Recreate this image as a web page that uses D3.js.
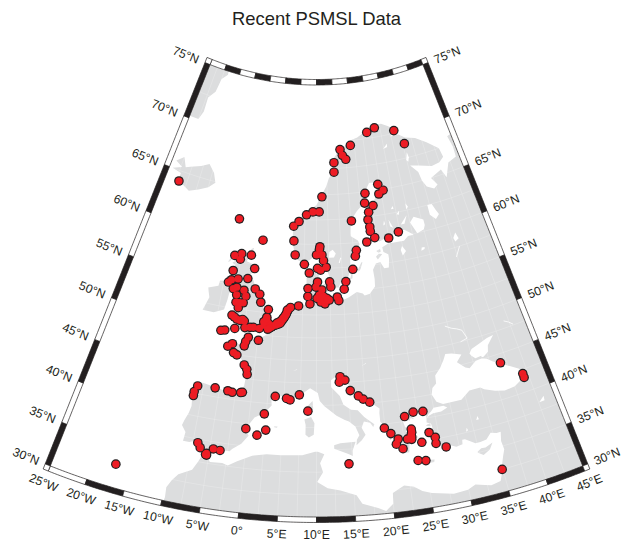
<!DOCTYPE html>
<html>
<head>
<meta charset="utf-8">
<title>Recent PSMSL Data</title>
<script src="https://cdn.jsdelivr.net/npm/d3@7/dist/d3.min.js"></script>
<style>
	html, body { margin: 0; padding: 0; background: #fff; }
	svg { display: block; }
	text { font-family: "Liberation Sans", Arial, sans-serif; fill: #231f20; }
</style>
</head>
<body>
<div id="chart"></div>
<script>
var chartTitle = "Recent PSMSL Data";
var latTicks = [30, 35, 40, 45, 50, 55, 60, 65, 70, 75];
var lonTicks = [-25, -20, -15, -10, -5, 0, 5, 10, 15, 20, 25, 30, 35, 40, 45];

// tide gauges, lon / lat
var nordicStations = [
	[-21.8,64.0],[-6.7,61.9],[-1.1,60.1],[5.1,61.8],[6.2,62.3],[7.8,63.0],[9.2,63.3],[10.6,63.3],[5.3,60.3],[5.7,58.85],
	[7.6,57.9],[8.6,57.0],[10.7,59.75],[10.6,59.5],[10.0,58.9],[11.1,58.9],[11.4,58.3],[10.2,57.5],[10.8,57.3],[11.9,57.6],
	[18.1,59.2],[17.8,58.6],[20.4,59.95],[17.1,57.25],[15.6,56.0],[15.2,55.2],[26.0,70.85],[23.75,70.55],[31.05,70.25],[32.95,68.85],
	[18.95,69.55],[16.15,69.25],[16.65,68.7],[17.45,68.3],[14.4,68.05],[14.3,67.15],[11.25,64.8],[24.5,65.55],[25.5,64.9],[24.4,64.6],
	[21.25,64.85],[20.9,63.9],[22.7,63.55],[21.55,62.95],[21.2,62.2],[17.6,62.25],[21.4,61.45],[21.4,61.0],[22.15,60.3],[25.0,60.05],[27.2,60.5]
];
var balticStations = [
	[12.5,56.05],[12.7,55.5],[10.2,56.05],[9.9,55.5],[8.4,55.35],[8.4,54.5],[8.8,53.7],[11.0,55.2],[10.5,54.65],[10.1,54.3],
	[11.3,54.5],[11.9,54.3],[10.8,53.9],[11.55,53.7],[12.35,54.1],[13.85,54.4],[14.1,54.0],[6.75,53.45],[5.3,53.25],[4.9,52.95],
	[10.6,54.3],[11.0,54.1],[11.4,54.1],[11.0,54.45],[12.0,54.1]
];
var britishStations = [
	[-6.3,58.1],[-5.0,58.4],[-5.1,57.8],[-3.05,58.4],[-6.1,56.5],[-2.05,57.05],[-6.6,55.2],[-6.1,55.5],[-4.9,55.7],[-3.1,55.9],
	[-5.5,54.6],[-4.9,54.8],[-3.5,54.6],[-4.7,54.0],[-3.0,54.0],[-1.45,54.9],[-0.5,54.4],[-0.15,53.55],[-4.6,53.2],[-3.3,53.25],
	[-4.05,52.65],[1.35,52.85],[-4.95,51.75],[-4.0,51.4],[-3.0,51.45],[-3.4,51.3],[-2.65,51.3],[-4.1,50.35],[-5.75,50.0],[-6.4,49.9],
	[-2.4,50.6],[-1.55,50.7],[-0.95,50.75],[0.1,50.7],[1.2,52.0],[0.8,51.5],[0.85,51.1],
	[-4.0,53.2],[-4.5,51.6],[1.3,51.1],[1.6,51.35],[0.75,51.45],[1.2,51.8]
];
var atlanticStations = [
	[4.65,52.6],[4.4,52.3],[4.1,52.05],[3.85,51.8],[3.45,51.6],[3.05,51.45],[2.65,51.2],[2.2,51.0],[1.85,50.85],[1.55,50.7],
	[2.9,51.25],[3.3,51.35],[3.6,51.45],[3.8,51.65],[4.1,51.95],[4.3,52.15],[4.55,52.45],[4.75,52.95],
	[-1.6,49.6],[-1.95,49.1],[-2.1,48.6],[0.15,49.4],[-4.1,48.65],[-4.8,48.3],[-3.7,47.7],[-3.1,47.5],[-1.7,46.5],[-1.2,46.05],
	[-1.05,45.5],[-8.4,43.35],[-8.75,42.65],[-8.75,42.2],[-5.7,43.5],[-3.7,43.4],[-3.0,43.3],[-1.7,43.4],[-1.45,43.45],
	[-6.8,37.1],[-6.35,36.6],[-5.45,35.95],[-5.35,36.1],[-5.3,35.9],[-17.0,32.6]
];
var medStations = [
	[-4.5,36.7],[-3.55,36.65],[3.65,43.35],[5.4,43.2],[5.95,43.05],[7.35,43.65],[8.7,41.85],[2.2,41.3],[2.6,39.5],[1.4,38.85],
	[-0.3,39.45],[13.75,45.65],[14.5,45.25],[13.6,45.05],[15.25,44.05],[16.45,43.4],[17.15,43.0],[18.1,42.6],[23.05,40.55],[24.4,40.9],
	[25.85,40.8],[19.9,39.55],[20.75,38.85],[21.7,38.15],[21.35,37.6],[22.2,37.0],[23.75,39.05],[23.75,38.7],[23.6,38.35],[23.65,38.15],[23.0,38.0],[23.6,37.9],
	[24.95,37.4],[26.2,38.35],[26.95,37.7],[26.9,37.0],[28.2,36.4],[24.05,35.45],[25.1,35.3],[14.5,35.85],[34.9,32.5],
	[39.05,44.0],[41.75,42.05],[41.75,41.6]
];

// land outlines, lon / lat
var landEurasia = [
	[-5.6,36.0],[-6.2,36.5],[-6.4,36.8],[-7.0,37.2],[-7.4,37.2],[-8.0,37.0],[-8.9,37.0],[-8.8,38.0],[-9.2,38.4],[-9.5,38.7],
	[-9.3,39.3],[-8.9,40.2],[-8.7,41.0],[-8.9,42.1],[-9.2,43.0],[-8.3,43.6],[-7.7,43.8],[-6.0,43.6],[-4.5,43.4],[-3.0,43.4],
	[-1.8,43.4],[-1.3,44.2],[-1.2,45.2],[-1.1,45.9],[-1.5,46.4],[-2.2,47.0],[-2.8,47.5],[-4.3,47.8],[-4.7,48.4],[-3.5,48.8],
	[-2.5,48.6],[-1.6,48.6],[-1.8,49.4],[-1.3,49.7],[-1.1,49.4],[0.1,49.5],[1.4,50.1],[1.6,50.8],[2.5,51.1],[3.4,51.4],
	[4.0,52.0],[4.6,52.5],[4.8,53.0],[5.5,53.3],[7.0,53.4],[8.2,53.6],[8.6,53.9],[8.9,54.3],[8.6,54.9],[8.1,55.6],
	[8.1,56.5],[8.6,57.1],[10.0,57.6],[10.6,57.7],[10.4,56.6],[10.9,56.4],[10.0,55.9],[9.6,55.4],[9.8,54.8],[10.0,54.4],
	[10.9,54.3],[11.0,54.0],[12.0,54.2],[13.0,54.4],[13.8,54.1],[14.3,53.9],[16.0,54.3],[17.5,54.8],[18.6,54.6],[18.9,54.35],
	[19.9,54.5],[21.0,55.2],[21.1,56.0],[21.0,57.0],[21.7,57.6],[22.6,57.7],[23.2,57.0],[24.1,57.0],[24.4,57.9],[24.4,58.4],
	[23.5,58.7],[23.4,59.2],[24.7,59.5],[26.5,59.5],[28.0,59.5],[29.0,59.9],[30.2,59.9],[29.5,60.2],[28.5,60.6],[27.0,60.5],
	[25.0,60.2],[23.0,59.85],[22.0,60.3],[21.4,60.8],[21.4,61.8],[21.2,62.4],[21.3,63.1],[22.5,63.8],[23.8,64.4],[24.6,64.9],
	[25.4,65.2],[25.2,65.6],[24.2,65.8],[22.5,65.8],[21.4,65.1],[21.0,64.6],[20.5,63.8],[19.0,63.2],[18.0,62.6],[17.4,62.0],
	[17.2,61.0],[17.2,60.7],[18.6,60.2],[18.9,59.8],[17.9,59.0],[16.7,58.4],[16.7,57.5],[16.2,56.6],[15.7,56.2],[14.7,56.1],
	[14.2,55.4],[13.0,55.4],[12.8,56.0],[12.3,56.9],[11.8,57.7],[11.2,58.8],[10.7,59.3],[10.6,59.9],[10.1,59.2],[9.0,58.5],
	[7.5,58.0],[6.0,58.4],[5.6,59.0],[5.2,59.8],[5.0,61.0],[5.0,62.0],[6.2,62.6],[8.0,63.3],[10.0,64.0],[11.0,64.8],
	[12.3,65.8],[13.0,66.6],[14.5,67.4],[15.5,68.1],[14.5,68.5],[15.8,69.2],[17.5,69.5],[19.0,70.0],[21.0,70.2],[23.5,70.7],
	[25.8,71.1],[28.0,71.1],[30.0,70.7],[31.1,70.3],[29.8,69.8],[32.0,69.8],[33.5,69.4],[36.0,69.1],[38.5,68.4],[41.0,67.5],
	[41.3,66.6],[40.0,66.2],[38.0,66.1],[35.0,66.5],[33.0,66.7],[34.5,65.9],[34.8,65.0],[35.5,64.3],[37.0,63.9],[38.0,64.2],
	[37.0,65.0],[39.8,65.5],[40.5,64.6],[42.0,65.9],[44.2,66.2],[44.4,67.2],[44.0,68.3],[46.0,68.5],[46.5,66.9],[50.0,68.0],[60.0,68.5],
	[60.0,20.0],[34.3,20.0],[34.3,31.3],[34.8,32.2],[35.0,32.9],[35.5,33.9],[35.9,34.6],[35.8,35.6],[36.1,36.6],[35.5,36.6],
	[34.7,36.8],[33.9,36.2],[33.0,36.1],[32.3,36.1],[31.0,36.8],[30.6,36.8],[30.5,36.3],[29.6,36.2],[28.3,36.7],[27.4,36.7],
	[27.3,37.1],[27.2,37.9],[26.4,38.3],[26.8,38.8],[26.7,39.3],[26.1,39.5],[26.2,40.0],[26.2,40.3],[26.0,40.8],[25.2,40.9],
	[24.4,40.9],[23.8,40.7],[24.4,40.1],[23.9,40.3],[23.7,40.0],[23.3,40.2],[22.9,40.5],[22.6,40.4],[22.9,39.4],[23.2,39.1],
	[22.9,38.9],[23.5,38.6],[24.0,38.2],[24.0,37.7],[23.6,37.9],[23.0,37.9],[23.2,37.4],[23.0,36.5],[22.5,36.5],[22.2,37.0],
	[21.7,36.8],[21.3,37.7],[21.7,38.3],[21.2,38.4],[20.8,38.9],[20.2,39.5],[19.4,40.3],[19.4,41.3],[19.5,41.8],[18.5,42.4],
	[17.5,43.0],[16.4,43.5],[15.2,44.2],[14.9,45.0],[14.4,45.3],[13.9,44.8],[13.5,45.3],[13.7,45.7],[13.1,45.7],[12.3,45.3],
	[12.3,44.5],[13.6,43.5],[14.1,42.5],[15.2,41.9],[16.2,41.8],[17.1,41.0],[18.5,40.1],[18.3,39.8],[17.9,40.3],[17.0,40.5],
	[16.6,39.8],[17.1,39.0],[16.5,38.4],[15.7,37.9],[15.8,38.5],[16.2,39.0],[15.7,40.0],[14.8,40.6],[14.2,40.8],[13.0,41.3],
	[12.2,41.8],[11.2,42.4],[10.5,43.0],[10.2,43.9],[9.0,44.4],[8.0,43.9],[7.4,43.7],[6.2,43.1],[5.0,43.4],[4.0,43.5],
	[3.1,43.0],[3.2,42.3],[2.2,41.4],[0.8,40.8],[-0.3,39.5],[0.2,38.7],[-0.7,37.7],[-1.9,37.0],[-2.2,36.7],[-3.5,36.7],
	[-4.5,36.7],[-5.3,36.1]
];
var landAfrica = [
	[34.3,31.3],[33.0,31.1],[32.2,31.3],[31.0,31.6],[29.9,31.2],[28.0,31.1],[25.2,31.6],[24.0,32.0],[23.0,32.6],[21.7,32.9],
	[20.1,32.2],[20.0,31.0],[19.0,30.3],[18.0,30.7],[16.0,31.3],[15.3,32.3],[13.2,32.9],[11.5,33.2],[10.1,33.9],[10.9,35.0],
	[10.5,36.0],[11.1,37.0],[10.2,37.3],[9.8,37.3],[8.0,36.9],[5.0,36.8],[3.0,36.8],[1.0,36.5],[-1.0,35.7],[-2.2,35.1],
	[-3.0,35.3],[-4.7,35.2],[-5.3,35.9],[-5.9,35.8],[-6.3,35.0],[-6.9,34.0],[-8.6,33.2],[-9.3,32.4],[-9.8,31.5],[-9.7,30.4],
	[-10.0,29.0],[-10.0,20.0],[34.4,20.0],[34.4,31.3]
];
var landBritain = [
	[-5.7,50.05],[-4.2,50.3],[-3.0,50.7],[-1.3,50.8],[0.3,50.75],[1.4,51.15],[0.6,51.45],[1.6,52.1],[1.7,52.7],[0.4,52.95],
	[0.2,53.3],[-0.1,53.7],[-0.6,54.5],[-1.5,55.2],[-2.0,55.8],[-3.2,56.0],[-2.6,56.4],[-2.0,57.4],[-3.8,57.7],[-3.0,58.6],
	[-5.0,58.6],[-5.5,57.6],[-6.2,56.7],[-5.5,56.0],[-4.9,55.4],[-5.0,54.8],[-3.5,54.9],[-3.0,53.9],[-3.1,53.3],[-4.5,53.3],
	[-4.2,52.8],[-4.1,52.3],[-5.2,51.9],[-4.2,51.6],[-3.0,51.4],[-4.2,51.2],[-5.0,50.4]
];
var landIreland = [[-6.2,53.3],[-6.5,52.2],[-8.2,51.7],[-10.2,51.7],[-9.5,53.2],[-10.1,54.2],[-8.3,54.6],[-8.2,55.2],[-7.0,55.3],[-5.6,54.6],[-6.1,54.0]];
var landIceland = [
	[-22.7,63.9],[-21.0,63.85],[-19.0,63.4],[-17.0,63.8],[-15.0,64.3],[-13.7,64.9],[-14.6,65.8],[-16.2,66.5],[-18.0,66.1],[-20.4,65.7],
	[-21.4,65.5],[-22.5,66.4],[-24.0,65.8],[-22.2,65.4],[-24.2,65.0],[-22.0,64.8],[-22.0,64.3]
];
var landGreenland = [[-30,75.5],[-19.0,75.5],[-18.5,74.7],[-20,74.2],[-20.5,73],[-22,72.3],[-21.8,71],[-22.5,70.2],[-25,70.2],[-30,68]];
var smallIslands = [
	[[-9.0,70.9],[-8.0,71.1],[-8.5,71.0]],
	[[23.6,35.5],[24.2,35.4],[25.2,35.35],[26.3,35.25],[26.2,35.0],[24.8,34.95],[23.6,35.25]],
	[[32.3,35.0],[33.0,34.6],[34.0,35.0],[34.6,35.7],[33.5,35.35],[32.9,35.4],[32.3,35.1]],
	[[12.5,38.0],[13.4,38.2],[15.6,38.3],[15.1,37.3],[15.1,36.7],[14.4,37.0],[12.5,37.6]],
	[[8.2,40.9],[9.2,41.2],[9.7,40.5],[9.6,39.2],[8.9,38.9],[8.4,39.2],[8.4,40.3]],
	[[9.4,43.0],[9.5,42.1],[9.2,41.4],[8.7,41.7],[8.6,42.4]],
	[[2.4,39.6],[3.1,39.9],[3.4,39.7],[3.0,39.3],[2.7,39.5]],
	[[3.8,40.0],[4.3,40.0],[4.2,39.85],[3.8,39.9]],
	[[1.3,39.0],[1.6,39.1],[1.6,38.9],[1.3,38.85]],
	[[23.0,38.9],[24.0,38.7],[24.6,38.0],[24.2,38.0],[23.5,38.5]],
	[[26.2,39.3],[26.6,39.35],[26.6,39.0],[25.9,39.15]],
	[[25.9,38.5],[26.15,38.55],[26.15,38.25],[25.9,38.25]],
	[[27.7,36.2],[28.2,36.45],[27.9,35.9]],
	[[20.4,38.4],[20.8,38.3],[20.6,38.1]],
	[[11.1,55.7],[12.5,56.1],[12.6,55.4],[12.0,54.9],[11.2,55.2]],
	[[9.9,55.5],[10.8,55.5],[10.7,55.1],[10.0,55.1]],
	[[14.7,55.3],[15.1,55.15],[14.9,55.0]],
	[[18.1,57.2],[18.9,57.9],[19.1,57.9],[18.6,57.2],[18.2,56.95]],
	[[16.4,56.2],[17.1,57.3],[16.9,56.3]],
	[[21.9,58.3],[22.5,58.6],[23.2,58.5],[22.2,58.0]],
	[[22.1,58.9],[22.9,59.05],[23.0,58.8],[22.5,58.7]],
	[[19.6,60.2],[20.3,60.4],[20.3,60.1],[19.8,60.05]],
	[[-7.4,57.3],[-6.3,58.5],[-6.2,58.2],[-7.0,57.4]],
	[[-6.5,57.3],[-5.9,57.6],[-5.8,57.1]],
	[[-3.3,59.0],[-2.7,59.2],[-2.9,58.8]],
	[[-1.4,59.9],[-1.1,60.7],[-0.9,60.3]],
	[[-7.3,62.2],[-6.6,62.3],[-6.7,61.9]],
	[[13.0,68.1],[15.0,68.7],[14.9,68.3],[13.8,68.0]]
];
// inland water and seas, painted white over the land
var blackSea = [
	[29.0,41.2],[28.1,41.6],[27.6,42.5],[27.9,43.2],[28.6,43.6],[28.7,44.5],[29.7,45.2],[30.5,46.0],[31.0,46.6],[32.0,46.5],
	[33.5,46.1],[32.5,45.4],[33.6,44.6],[34.2,44.4],[35.4,45.0],[36.4,45.1],[37.2,44.9],[38.0,44.4],[39.5,43.7],[41.5,42.7],
	[41.6,41.6],[40.0,41.0],[38.4,40.9],[37.0,41.2],[35.5,41.7],[35.0,42.0],[33.3,42.0],[31.8,41.2],[30.0,41.2]
];
var seaAzov = [[35.0,45.7],[34.8,46.0],[35.3,46.4],[36.7,46.75],[38.2,47.1],[39.3,47.2],[38.0,46.3],[37.7,45.6],[36.8,45.2],[36.5,45.2],[36.5,45.4],[35.5,45.3]];
var seaMarmara = [[27.0,40.6],[27.5,41.0],[29.0,41.0],[29.5,40.7],[28.5,40.4],[27.3,40.4],[26.6,40.2],[26.2,39.95],[26.6,40.4]];
var lakes = [
	[[31.0,59.95],[32.5,60.2],[32.9,60.6],[32.9,61.2],[31,61.7],[30.0,61.2],[30.5,60.6]],
	[[35.5,60.9],[36.4,61.3],[36.0,61.8],[35.5,62.5],[34.5,62.5],[34.5,61.5]],
	[[12.5,58.6],[13.5,58.6],[13.9,59.0],[13.3,59.4],[12.6,59.2]],
	[[14.4,58.0],[14.8,58.6],[14.9,58.5],[14.6,58.0]],
	[[27.2,58.0],[28,58.4],[27.4,59.0],[27,58.6]],
	[[31,58.1],[31.7,58.2],[31.8,58.4],[31.2,58.4]],
	[[38,58.1],[38.8,58.3],[38.5,59],[37.8,58.5]],
	[[32.4,67.3],[33.0,68.0],[33.2,67.5],[32.8,67.1]],
	[[27.3,68.8],[28.5,69.2],[28.4,68.9]],
	[[28,61.2],[29.6,62.0],[28.8,61.2]],
	[[26.3,61.0],[25.6,61.9],[25.7,61.2]],
	[[29.8,62.6],[29.9,63.2],[30.3,62.8]],
	[[27.5,62.3],[28.2,62.6],[28.0,62.2]],
	[[26.5,62.9],[27.0,63.2],[27.1,62.9]],
	[[24.3,61.4],[24.6,61.9],[24.7,61.5]],
	[[42.6,38.4],[43.5,38.9],[43.4,38.4]],
	[[33.2,38.6],[33.5,39.0],[33.6,38.6]],
	[[31.4,37.6],[31.6,38.0],[31.7,37.7]],
	[[17.3,46.7],[18.1,47.0],[18.0,46.9]],
	[[6.2,46.3],[6.9,46.5],[6.8,46.4]]
];
var rivers = [
	[[32.0,49.6],[33.0,49.2],[33.8,49.0],[34.6,48.7],[35.1,47.7],[33.9,47.5]],
	[[41.7,48.3],[42.4,48.0],[43.0,47.6]],
	[[37.3,56.5],[38.5,57.5]]
];

var width = 621, height = 541;

var svg = d3.select("#chart").append("svg")
	.attr("width", width)
	.attr("height", height);

var projection = d3.geoConicConformal()
	.parallels([26, 50])
	.rotate([-10, 0])
	.fitExtent([[50.3, 64.6], [582.7, 517]], {
		type: "MultiPoint",
		coordinates: [[-25, 75], [45, 75], [-25, 30], [45, 30], [10, 30]]
	});

var ring = d3.line().curve(d3.curveLinear);

function polygon(coords) {
	return ring(coords.map(function(d) { return projection(d); })) + "Z";
}

// points along one side of the map, from one lon/lat to another
function sidePoints(a, b) {
	return d3.range(0, 1.0001, 1 / 12).map(function(t) {
		return [a[0] + (b[0] - a[0]) * t, a[1] + (b[1] - a[1]) * t];
	});
}

var lonMin = lonTicks[0], lonMax = lonTicks[lonTicks.length - 1];
var latMin = latTicks[0], latMax = latTicks[latTicks.length - 1];

var outline = [].concat(
	d3.range(lonMin, lonMax + 0.1, 1).map(function(l) { return [l, latMax]; }),
	d3.range(lonMax, lonMin - 0.1, -1).map(function(l) { return [l, latMin]; })
);

svg.append("clipPath").attr("id", "map-clip")
	.append("path").attr("d", polygon(outline));

var map = svg.append("g").attr("clip-path", "url(#map-clip)");

map.selectAll("path.land")
	.data([landEurasia, landAfrica, landBritain, landIreland, landIceland, landGreenland].concat(smallIslands))
	.enter().append("path")
	.attr("class", "land")
	.attr("d", polygon)
	.attr("fill", "#dcddde");

map.selectAll("path.water")
	.data([blackSea, seaAzov, seaMarmara].concat(lakes))
	.enter().append("path")
	.attr("class", "water")
	.attr("d", polygon)
	.attr("fill", "#fff");

map.selectAll("path.river")
	.data(rivers)
	.enter().append("path")
	.attr("class", "river")
	.attr("d", function(d) { return ring(d.map(function(p) { return projection(p); })); })
	.attr("fill", "none")
	.attr("stroke", "#fff")
	.attr("stroke-width", 0.8);

map.append("path")
	.datum(d3.geoGraticule().step([2.5, 2.5]).extent([[-30, 25], [50, 80]])())
	.attr("d", d3.geoPath(projection))
	.attr("fill", "none")
	.attr("stroke", "#fff")
	.attr("stroke-width", 0.35)
	.attr("stroke-opacity", 0.6);

// outward direction of the frame at a point on each side
function outward(p, side) {
	var q = side == "left" ? [p[0] - 1, p[1]]
		: side == "right" ? [p[0] + 1, p[1]]
		: side == "top" ? [p[0], p[1] + 1]
		: [p[0], p[1] - 1];
	var a = projection(p), b = projection(q);
	var len = Math.hypot(b[0] - a[0], b[1] - a[1]);
	return [(b[0] - a[0]) / len, (b[1] - a[1]) / len];
}

var bandWidth = 5.5;

function bandPath(a, b, side) {
	var pts = sidePoints(a, b);
	var inner = pts.map(function(p) { return projection(p); });
	var outer = pts.map(function(p) {
		var o = outward(p, side), c = projection(p);
		return [c[0] + o[0] * bandWidth, c[1] + o[1] * bandWidth];
	}).reverse();
	return ring(inner.concat(outer)) + "Z";
}

var frame = svg.append("g");
var segments = [];

d3.pairs(latTicks).forEach(function(d, i) {
	segments.push({ a: [lonMin, d[0]], b: [lonMin, d[1]], side: "left", black: i % 2 == 0 });
	segments.push({ a: [lonMax, d[0]], b: [lonMax, d[1]], side: "right", black: i % 2 == 0 });
});
d3.pairs(lonTicks).forEach(function(d, i) {
	segments.push({ a: [d[0], latMin], b: [d[1], latMin], side: "bottom", black: i % 2 == 1 });
	segments.push({ a: [d[0], latMax], b: [d[1], latMax], side: "top", black: i % 2 == 1 });
});

frame.selectAll("path.band")
	.data(segments)
	.enter().append("path")
	.attr("class", "band")
	.attr("d", function(d) { return bandPath(d.a, d.b, d.side); })
	.attr("fill", function(d) { return d.black ? "#231f20" : "#fff"; })
	.attr("stroke", "#231f20")
	.attr("stroke-width", 0.7);

// white squares in the four corners
var corners = [
	{ p: [lonMin, latMax], s: ["left", "top"] },
	{ p: [lonMax, latMax], s: ["right", "top"] },
	{ p: [lonMin, latMin], s: ["left", "bottom"] },
	{ p: [lonMax, latMin], s: ["right", "bottom"] }
];

frame.selectAll("path.corner")
	.data(corners)
	.enter().append("path")
	.attr("class", "corner")
	.attr("d", function(d) {
		var c = projection(d.p);
		var u = outward(d.p, d.s[0]), v = outward(d.p, d.s[1]);
		return ring([
			c,
			[c[0] + u[0] * bandWidth, c[1] + u[1] * bandWidth],
			[c[0] + (u[0] + v[0]) * bandWidth, c[1] + (u[1] + v[1]) * bandWidth],
			[c[0] + v[0] * bandWidth, c[1] + v[1] * bandWidth]
		]) + "Z";
	})
	.attr("fill", "#fff")
	.attr("stroke", "#231f20")
	.attr("stroke-width", 0.7);

// tick labels follow the parallel or meridian they belong to
function latLabel(d) { return d + "\u00b0N"; }
function lonLabel(d) { return d == 0 ? "0\u00b0" : Math.abs(d) + (d < 0 ? "\u00b0W" : "\u00b0E"); }

function addSideLabels(lon, side, anchor) {
	svg.selectAll("text." + side)
		.data(latTicks)
		.enter().append("text")
		.attr("class", side)
		.attr("font-size", 12.2)
		.attr("text-anchor", anchor)
		.attr("dy", "0.35em")
		.attr("transform", function(d) {
			var o = outward([lon, d], side), c = projection([lon, d]);
			var angle = Math.atan2(o[1], o[0]) * 180 / Math.PI;
			if (side == "left") angle += 180;
			return "translate(" + (c[0] + o[0] * 12.5) + "," + (c[1] + o[1] * 12.5) + ") rotate(" + angle + ")";
		})
		.text(latLabel);
}
addSideLabels(lonMin, "left", "end");
addSideLabels(lonMax, "right", "start");

svg.selectAll("text.bottom")
	.data(lonTicks)
	.enter().append("text")
	.attr("class", "bottom")
	.attr("font-size", 12.2)
	.attr("text-anchor", "middle")
	.attr("dy", "0.35em")
	.attr("transform", function(d) {
		var o = outward([d, latMin], "bottom"), c = projection([d, latMin]);
		var angle = Math.atan2(o[1], o[0]) * 180 / Math.PI - 90;
		return "translate(" + (c[0] + o[0] * 17.8) + "," + (c[1] + o[1] * 17.8) + ") rotate(" + angle + ")";
	})
	.text(lonLabel);

var stations = [].concat(nordicStations, balticStations, britishStations, atlanticStations, medStations);

// dark discs first, red on top, so overlapping gauges merge into one blob
svg.selectAll("circle.station-edge")
	.data(stations)
	.enter().append("circle")
	.attr("class", "station-edge")
	.attr("cx", function(d) { return projection(d)[0]; })
	.attr("cy", function(d) { return projection(d)[1]; })
	.attr("r", 4.8)
	.attr("fill", "#231f20");

svg.selectAll("circle.station")
	.data(stations)
	.enter().append("circle")
	.attr("class", "station")
	.attr("cx", function(d) { return projection(d)[0]; })
	.attr("cy", function(d) { return projection(d)[1]; })
	.attr("r", 3.6)
	.attr("fill", "#ed1c24");

svg.append("text")
	.attr("x", 316.5)
	.attr("y", 25)
	.attr("text-anchor", "middle")
	.attr("font-size", 18.4)
	.text(chartTitle);
</script>
</body>
</html>
